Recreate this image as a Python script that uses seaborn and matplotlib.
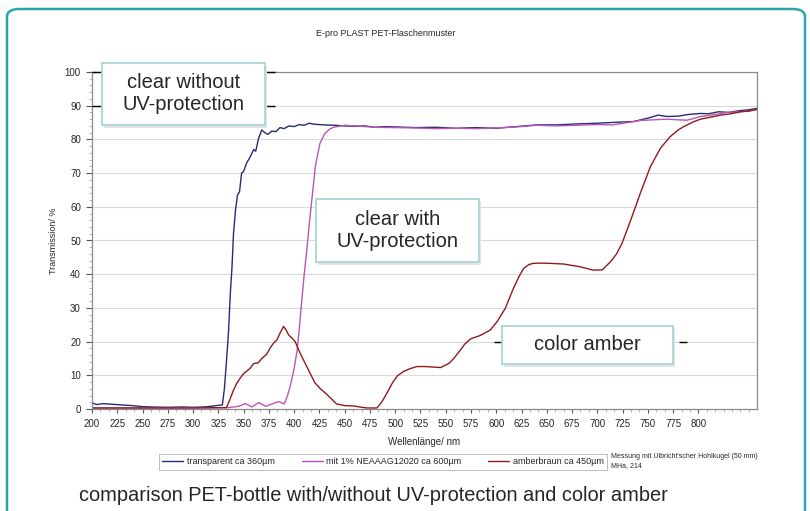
import pandas as pd
import seaborn as sns
import matplotlib.pyplot as plt
from matplotlib.patches import FancyBboxPatch, Rectangle
from matplotlib.ticker import MultipleLocator

# transmission spectra (nm, %)
blue_nm = [200, 205, 210, 220, 230, 240, 250, 260, 275, 290, 300, 310, 318, 325, 329,
           331, 333, 335, 337, 338.5, 340, 342, 344, 346, 348, 350, 353, 356, 360, 362,
           365, 368, 371, 374, 378, 382, 386, 390, 395, 400, 405, 410, 415, 420, 430,
           440, 450, 460, 470, 480, 490, 500, 520, 540, 560, 580, 600, 620, 640, 660,
           680, 700, 720, 736, 750, 760, 769, 780, 790, 802, 810, 820, 830, 840, 850, 858]
blue_t = [1.8, 1.3, 1.6, 1.4, 1.2, 1.0, 0.7, 0.6, 0.5, 0.6, 0.5, 0.6, 0.8, 1.1, 1.2,
          6, 14, 22.5, 35, 42, 52, 59, 63.5, 64.5, 70, 70.5, 73, 74.5, 77, 76.5,
          80.5, 82.8, 82, 81.5, 82.5, 82.3, 83.5, 83.2, 84, 83.8, 84.4, 84.2, 84.8, 84.5, 84.3,
          84.2, 84, 83.9, 84, 83.6, 83.8, 83.7, 83.5, 83.6, 83.3, 83.5, 83.3, 83.8, 84.3, 84.3,
          84.6, 84.8, 85.1, 85.3, 86.3, 87.2, 86.8, 86.9, 87.4, 87.7, 87.6, 88.2, 88.0, 88.5, 88.8, 89.2]

magenta_nm = [200, 250, 300, 335, 345, 352, 358, 365, 372, 378, 385, 390, 393, 396, 400,
              403, 405.5, 407.5, 410, 412.5, 415, 417.5, 421, 425.5, 430.5, 435, 439, 450, 460, 480,
              500, 520, 540, 560, 580, 600, 620, 640, 660, 680, 700, 715, 730, 742, 755,
              769, 780, 789, 802, 815, 828, 840, 850, 858]
magenta_t = [0.3, 0.3, 0.3, 0.4, 0.8, 1.6, 0.6, 1.9, 0.8, 1.5, 2.2, 1.5, 3.5, 6.6, 12,
             17.5, 25, 32, 40, 47, 55, 62, 72, 78.8, 81.8, 83, 83.6, 84.2, 84, 83.6,
             83.5, 83.4, 83.2, 83.3, 83.2, 83.4, 83.7, 84.2, 84, 84.2, 84.4, 84.3, 85, 85.6, 85.8,
             86, 85.8, 85.7, 86.8, 87.3, 88, 88.2, 88.5, 88.9]

amber_nm = [200, 250, 300, 325, 333, 336, 340, 343, 346.5, 350, 353, 356.5, 360, 364.5, 368,
            373, 376, 379.5, 383, 386, 389.5, 392, 394.5, 398, 401, 406, 412.5, 420.5, 426, 431,
            437, 442, 450, 459, 465, 472, 482, 487, 492, 497, 502, 508, 515, 521.5, 530,
            545, 553, 558, 564.5, 569, 574.5, 584, 594, 601, 609, 617, 622, 627, 632, 636,
            644, 655, 667, 683, 696, 705, 713, 719, 724.5, 733, 742.5, 752.5, 762.5, 772, 780,
            785.5, 795, 802, 812, 822, 832, 842, 850, 858]
amber_t = [0.3, 0.3, 0.3, 0.4, 0.4, 2.5, 5.6, 7.5, 9.1, 10.5, 11.2, 12.1, 13.5, 13.7, 15,
           16.3, 18, 19.5, 20.5, 22.5, 24.5, 23.5, 22, 21, 20, 16.5, 12.6, 7.8, 6, 4.7,
           3, 1.5, 1, 0.9, 0.6, 0.3, 0.3, 2.2, 4.8, 7.6, 9.8, 11.1, 12, 12.6, 12.6,
           12.3, 13.5, 15, 17.5, 19.3, 20.8, 21.8, 23.4, 26, 29.9, 35.8, 39, 41.7, 42.8, 43.2,
           43.3, 43.2, 43.0, 42.2, 41.2, 41.3, 43.7, 46, 49.2, 56, 64, 71.9, 77.4, 80.8, 82.8,
           83.8, 85.2, 86, 86.6, 87.2, 87.6, 88.2, 88.4, 88.9]

series_names = ["transparent ca 360µm", "mit 1% NEAAAG12020 ca 600µm", "amberbraun ca 450µm"]
series_colors = ["#262c72", "#bb55bb", "#8e1b1b"]
x_ticks = list(range(200, 801, 25))
y_ticks = list(range(0, 101, 10))

sns.set_theme(style="white")
plt.rcParams["font.family"] = ["Liberation Sans", "DejaVu Sans"]

df = pd.concat([
    pd.DataFrame({"nm": blue_nm, "T": blue_t, "sample": series_names[0]}),
    pd.DataFrame({"nm": magenta_nm, "T": magenta_t, "sample": series_names[1]}),
    pd.DataFrame({"nm": amber_nm, "T": amber_t, "sample": series_names[2]}),
])

W, H = 810, 511
fig = plt.figure(figsize=(W / 100, H / 100), dpi=100)


def fx(px):
    return px / W


def fy(py):
    return 1 - py / H


ax = fig.add_axes([fx(92), fy(409), fx(757) - fx(92), fy(72) - fy(409)])
sns.lineplot(df, x="nm", y="T", hue="sample", palette=dict(zip(series_names, series_colors)),
             estimator=None, sort=False, linewidth=1.0, ax=ax)

ax.set_xlim(200, 858)
ax.set_ylim(0, 100)
ax.set_xticks(x_ticks)
ax.set_yticks(y_ticks)
ax.xaxis.set_minor_locator(MultipleLocator(25 / 3))
ax.yaxis.set_minor_locator(MultipleLocator(2))
ax.tick_params(axis="both", which="major", labelsize=7, color="#555555", length=4, width=0.8,
               direction="out", pad=4)
ax.tick_params(axis="both", which="minor", color="#999999", length=2, width=0.5, direction="out")
ax.tick_params(axis="x", which="major", length=3)
ax.tick_params(bottom=True, left=True, which="both")
ax.grid(axis="y", color="#d9d9d9", linewidth=0.8)
ax.grid(axis="x", visible=False)
for s in ax.spines.values():
    s.set_color("#8a8a8a")
    s.set_linewidth(0.9)
ax.set_xlabel("Wellenlänge/ nm", fontsize=7, labelpad=6)
ax.set_ylabel("Transmission/ %", fontsize=6.5, labelpad=5)

# short dark segments beside the label boxes (shadow artefacts in the original)
ax.hlines([90, 100], 200, 210, color="black", lw=1, zorder=3, clip_on=False)
ax.hlines([90, 100], 372.5, 381, color="black", lw=1, zorder=3, clip_on=False)
ax.hlines(20, 598, 606, color="black", lw=1, zorder=3)
ax.hlines(20, 781, 789, color="black", lw=1, zorder=3)

leg = ax.legend(loc="center", bbox_to_anchor=(fx(383), fy(462)), bbox_transform=fig.transFigure,
                ncol=3, fontsize=6.5, frameon=True, fancybox=False, edgecolor="#a0a0a0",
                handlelength=2.3, handletextpad=0.4, columnspacing=3.0, borderpad=0.35)
leg.get_frame().set_linewidth(0.6)
for line in leg.get_lines():
    line.set_linewidth(1.0)

fig.text(fx(386), fy(33), "E-pro PLAST PET-Flaschenmuster", fontsize=6.5, ha="center", va="center")
fig.text(fx(611), fy(461), "Messung mit Ulbricht'scher Hohlkugel (50 mm)\nMHa, 214",
         fontsize=5, ha="left", va="center", linespacing=1.6)
fig.text(fx(79), fy(495), "comparison PET-bottle with/without UV-protection and color amber",
         fontsize=14.4, ha="left", va="center")

# label boxes
boxes = [
    ((102, 63, 265, 125), "clear without\nUV-protection"),
    ((316, 199, 479, 262), "clear with\nUV-protection"),
    ((502, 326, 673, 364), "color amber"),
]
for (x0, y0, x1, y1), label in boxes:
    fig.patches.append(Rectangle((fx(x0) + 0.003, fy(y1) - 0.005), fx(x1) - fx(x0), fy(y0) - fy(y1),
                                 transform=fig.transFigure, facecolor="#e4e4e4", edgecolor="none",
                                 zorder=4))
    fig.patches.append(Rectangle((fx(x0), fy(y1)), fx(x1) - fx(x0), fy(y0) - fy(y1),
                                 transform=fig.transFigure, facecolor="white", edgecolor="#a9d4d8",
                                 linewidth=1.3, zorder=5))
    fig.text((fx(x0) + fx(x1)) / 2, (fy(y0) + fy(y1)) / 2, label, fontsize=14.5, ha="center",
             va="center", linespacing=1.2, zorder=6)

# teal outer frame, open at the bottom edge
fig.patches.append(FancyBboxPatch((fx(7), fy(540)), fx(805) - fx(7), fy(9) - fy(540),
                                  boxstyle="round,pad=0,rounding_size=0.015",
                                  transform=fig.transFigure, facecolor="none",
                                  edgecolor="#2aa6a6", linewidth=1.8, zorder=10))

fig.savefig("out.png", dpi=100)
